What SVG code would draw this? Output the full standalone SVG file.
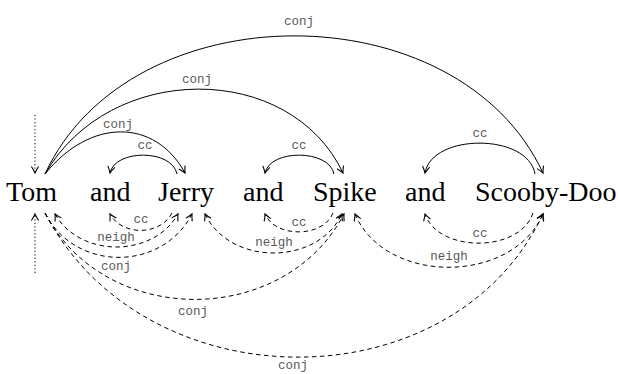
<svg xmlns="http://www.w3.org/2000/svg" width="618" height="374" viewBox="0 0 618 374">
<style>
.w{font-family:"Liberation Serif","Times New Roman",serif;font-size:28px;fill:#000}
.l{font-family:"Liberation Mono","Courier New",monospace;font-size:12.5px;fill:#5a5a5a;text-anchor:middle}
.e{fill:none;stroke:#000;stroke-width:1}
.d{stroke-dasharray:4.5 3.5}
.r{fill:none;stroke:#000;stroke-width:1;stroke-dasharray:1.2 2.3}
</style>
<defs>
<marker id="a" markerWidth="10" markerHeight="10" refX="0" refY="0" orient="auto-start-reverse" markerUnits="userSpaceOnUse" overflow="visible">
<path d="M-6.5,-3.6 C-3.5,-1.6 -1.2,-0.5 0,0 C-1.2,0.5 -3.5,1.6 -6.5,3.6" fill="none" stroke="#000" stroke-width="1.1"/>
</marker>
</defs>
<rect width="618" height="374" fill="#fff"/>
<g id="tom"><text class="w" x="6" y="201">Tom</text></g>
<g id="and1"><text class="w" x="90" y="201">and</text></g>
<g id="jerry"><text class="w" x="158" y="201">Jerry</text></g>
<g id="and2"><text class="w" x="243" y="201">and</text></g>
<g id="spike"><text class="w" x="313" y="201">Spike</text></g>
<g id="and3"><text class="w" x="405" y="201">and</text></g>
<g id="scooby"><text class="w" x="475" y="201">Scooby-Doo</text></g>
<g id="connectors">
<path class="r" d="M35,115 L35,173" marker-end="url(#a)"/>
<path class="r" d="M35,273 L35,214" marker-end="url(#a)"/>
<path class="e" d="M45,174 C130,-10 458,-10 543,173" marker-end="url(#a)"/>
<text class="l" x="299" y="25">conj</text>
<path class="e" d="M45,174 C110,61 290,61 343,173" marker-end="url(#a)"/>
<text class="l" x="197" y="83">conj</text>
<path class="e" d="M45,174 C90,118 155,118 185,173" marker-end="url(#a)"/>
<text class="l" x="118" y="128">conj</text>
<path class="e" d="M177,174 C172,149 115,149 110,173" marker-end="url(#a)"/>
<text class="l" x="145" y="149">cc</text>
<path class="e" d="M334,174 C329,149 270,149 265,173" marker-end="url(#a)"/>
<text class="l" x="299" y="149">cc</text>
<path class="e" d="M535,174 C528,133 432,133 425,173" marker-end="url(#a)"/>
<text class="l" x="480" y="137">cc</text>
<path class="e d" d="M172,213 C160,236 122,236 110,214" marker-end="url(#a)"/>
<text class="l" x="141" y="223">cc</text>
<path class="e d" d="M55,214 C80,258 153,258 178,214" marker-start="url(#a)" marker-end="url(#a)"/>
<text class="l" x="116" y="241">neigh</text>
<path class="e d" d="M45,213 C75,272 162,272 192,214" marker-end="url(#a)"/>
<text class="l" x="116" y="270">conj</text>
<path class="e d" d="M45,213 C105,328 284,328 344,214" marker-end="url(#a)"/>
<text class="l" x="193" y="315">conj</text>
<path class="e d" d="M45,213 C145,405 453,405 543,214" marker-end="url(#a)"/>
<text class="l" x="293" y="369">conj</text>
<path class="e d" d="M333,213 C323,238 275,238 265,214" marker-end="url(#a)"/>
<text class="l" x="299" y="226">cc</text>
<path class="e d" d="M205,214 C230,266 317,266 342,214" marker-start="url(#a)" marker-end="url(#a)"/>
<text class="l" x="274" y="246">neigh</text>
<path class="e d" d="M533,213 C520,253 438,253 425,214" marker-end="url(#a)"/>
<text class="l" x="480" y="237">cc</text>
<path class="e d" d="M355,214 C385,285 512,285 543,214" marker-start="url(#a)" marker-end="url(#a)"/>
<text class="l" x="449" y="260">neigh</text>
</g>
</svg>
